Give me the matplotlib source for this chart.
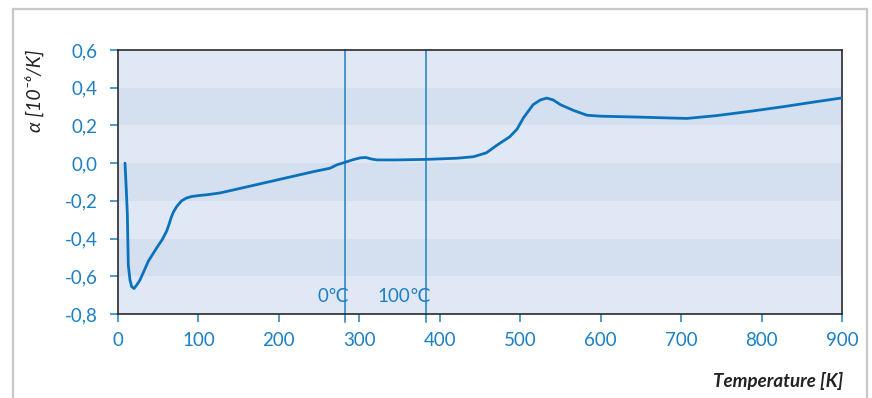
import matplotlib
matplotlib.use("Agg")

import matplotlib.pyplot as plt
from matplotlib.lines import Line2D
import numpy as np

plt.rcParams["font.family"] = ["Lato", "DejaVu Sans"]

# curve (temperature in K, alpha in 1e-6/K)
temperature = [8.7, 10.2, 11.6, 12.8, 14.9, 17, 19.9, 23.5, 27.3, 32, 37.7, 48, 55,
               60.5, 63.8, 66, 68.8, 73, 79, 85, 91.6, 100, 110, 126.8, 160, 201,
               243, 263.6, 272, 282, 292, 301, 308, 315, 322, 346, 384, 421, 442,
               458, 471, 487, 496, 504, 516, 525, 533, 541, 550, 566, 583, 600,
               649, 707, 744, 786, 828, 868, 900]
alpha = [0.0, -0.13, -0.27, -0.54, -0.62, -0.655, -0.665, -0.645, -0.62, -0.575,
         -0.52, -0.45, -0.405, -0.36, -0.32, -0.29, -0.26, -0.23, -0.20, -0.185,
         -0.177, -0.172, -0.168, -0.158, -0.126, -0.086, -0.045, -0.027, -0.009,
         0.004, 0.018, 0.028, 0.03, 0.022, 0.017, 0.017, 0.02, 0.026, 0.034,
         0.055, 0.095, 0.14, 0.18, 0.24, 0.31, 0.335, 0.345, 0.335, 0.31, 0.28,
         0.254, 0.249, 0.244, 0.237, 0.252, 0.275, 0.30, 0.326, 0.346]

marker_temps = [282, 383]
marker_labels = ["0\u2103", "100\u2103"]

x_ticks = [0, 100, 200, 300, 400, 500, 600, 700, 800, 900]
y_ticks = [-0.8, -0.6, -0.4, -0.2, 0.0, 0.2, 0.4, 0.6]

BLUE = "#0a72bd"
TICK_BLUE = "#1b80c6"
LIGHT = "#e1e8f5"
DARK = "#d4dff0"

W, H = 872, 398
fig = plt.figure(figsize=(W / 100, H / 100), dpi=100)
ax = fig.add_axes([118 / W, 1 - 314 / H, (842 - 118) / W, (314 - 50) / H])

ax.set_xlim(0, 900)
ax.set_ylim(-0.8, 0.6)
ax.set_facecolor(LIGHT)

# alternating bands
for i in range(len(y_ticks) - 1):
    lo, hi = y_ticks[i], y_ticks[i + 1]
    if i % 2 == 1:
        ax.axhspan(lo, hi, color=DARK, lw=0, zorder=0)

for t, lab in zip(marker_temps, marker_labels):
    ax.plot([t, t], [-0.8 - 0.04, 0.6], color=TICK_BLUE, lw=1.1, clip_on=False, zorder=2)
    ax.text(t + 6, -0.735, lab, color=TICK_BLUE, fontsize=13.5, ha="right", va="baseline", zorder=3)

ax.plot(temperature, alpha, color=BLUE, lw=2.0, zorder=4,
        solid_capstyle="round", solid_joinstyle="round")

ax.set_xticks(x_ticks)
ax.set_xticklabels([str(v) for v in x_ticks])
ax.set_yticks(y_ticks)
ax.set_yticklabels([f"{v:.1f}".replace(".", ",") for v in y_ticks])

ax.tick_params(axis="both", colors=TICK_BLUE, labelcolor=TICK_BLUE, labelsize=13.5,
               length=5.5, width=1.1, direction="out")
ax.tick_params(axis="y", pad=9)
ax.tick_params(axis="x", pad=7.5)

for s in ax.spines.values():
    s.set_color("#2a2a2a")
    s.set_linewidth(1.2)

fig.text(34 / W, 1 - 50 / H, "\u03b1 [10\u207b\u2076/K]", rotation=90, ha="center", va="top",
         fontsize=14, style="italic", color="#222222")
fig.text(843 / W, 1 - 381 / H, "Temperature [K]", ha="right", va="center",
         fontsize=13.5, style="italic", fontweight="bold", color="#222222")

# outer frame
frame_kw = dict(color="#c8c8c8", lw=1.6, transform=fig.transFigure)
fig.add_artist(Line2D([13 / W, 13 / W], [0, 1 - 9 / H], **frame_kw))
fig.add_artist(Line2D([13 / W, 867 / W], [1 - 9 / H, 1 - 9 / H], **frame_kw))
fig.add_artist(Line2D([867 / W, 867 / W], [0, 1 - 9 / H], **frame_kw))

fig.savefig("out.png", dpi=100)
